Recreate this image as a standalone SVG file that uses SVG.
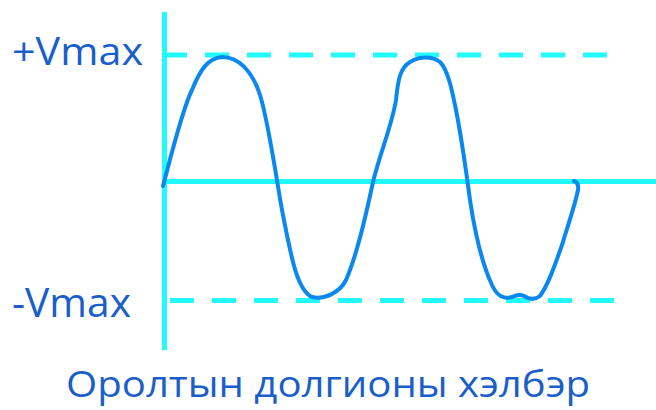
<svg xmlns="http://www.w3.org/2000/svg" width="656" height="410" viewBox="0 0 656 410">
<style>
.ax{stroke:#22fbfb;stroke-width:5;fill:none}
.dash{stroke:#22fbfb;stroke-width:5;fill:none;stroke-dasharray:24 18}
.wave{stroke:#0b88ee;stroke-width:4;fill:none;stroke-linecap:round;stroke-linejoin:round}
.lbl{font-family:"Open Sans","Noto Sans",sans-serif;fill:#1a5ec9}
</style>
<rect width="656" height="410" fill="#ffffff"/>
<g id="axes">
<line class="ax" x1="164.5" y1="12" x2="164.5" y2="350"/>
<line class="ax" x1="164" y1="181.5" x2="656" y2="181.5"/>
</g>
<g id="levels">
<line class="dash" x1="163" y1="55" x2="607" y2="55"/>
<line class="dash" x1="170" y1="300.5" x2="614" y2="300.5"/>
</g>
<g id="waveform">
<path class="wave" d="M163,186 C170,160 182,110 192,90 C200,70 208,58 222,57 C238,57 252,70 260,95 C268,120 275,170 282,210 C290,250 296,290 312,297 C325,300 340,292 346,280 C355,260 365,220 373,182 C381,150 392,125 396,100 C398,80 400,68 410,62 C420,56 432,56 440,62 C448,70 452,90 456,110 C462,140 466,170 470,200 C476,240 485,270 492,285 C498,298 505,299 512,297 C516,295 520,294 524,296 C530,300 535,300 540,296 C548,285 555,265 562,245 C568,225 575,205 578,190 C579,184 577,182 574,181"/>
</g>
<g id="labels">
<text class="lbl" x="12" y="65" font-size="39" textLength="131" lengthAdjust="spacingAndGlyphs">+Vmax</text>
<text class="lbl" x="12" y="317" font-size="41" textLength="119" lengthAdjust="spacingAndGlyphs">-Vmax</text>
<text class="lbl" x="66" y="397" font-size="36" textLength="524" lengthAdjust="spacingAndGlyphs">Оролтын долгионы хэлбэр</text>
</g>
</svg>
